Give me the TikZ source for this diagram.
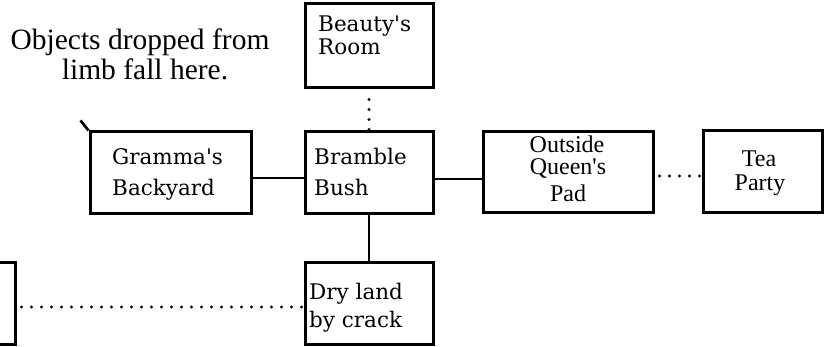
\documentclass[tikz,border=0pt]{standalone}
\usepackage{fontspec}
\newfontfamily\boxfont{DejaVu Serif}
\newfontfamily\tmfont{Liberation Serif}
\begin{document}
\begin{tikzpicture}[x=1pt,y=-1pt,
  room/.style={draw, line width=3pt, inner sep=0pt, rectangle},
  link/.style={line width=2.6pt},
  dotlink/.style={line width=3.2pt, line cap=round, dash pattern=on 0pt off 10pt},
  lbl/.style={inner sep=0pt, anchor=base west, font=\boxfont\fontsize{21.5}{25}\selectfont},
  clbl/.style={inner sep=0pt, anchor=base, font=\tmfont\fontsize{24}{26}\selectfont},
  note/.style={inner sep=0pt, anchor=base, font=\tmfont\fontsize{29.5}{30}\selectfont}]
\useasboundingbox (0,0) rectangle (825,347);
\clip (0,0) rectangle (825,347);
% boxes
\node[room, minimum width=128pt, minimum height=84pt] (beauty) at (369,46) {};
\node[room, minimum width=161pt, minimum height=82pt] (gramma) at (170.5,173) {};
\node[room, minimum width=128pt, minimum height=82pt] (bramble) at (369,173) {};
\node[room, minimum width=170pt, minimum height=81pt] (outside) at (568,172.5) {};
\node[room, minimum width=119pt, minimum height=82pt] (tea) at (762.5,172) {};
\node[room, minimum width=128pt, minimum height=82pt] (dry) at (369,304) {};
\node[room, minimum width=130pt, minimum height=82pt] (west) at (-50,304) {};
% labels
\node[lbl] (t1) at (318,32) {Beauty's};
\node[lbl] (t2) at (318,55) {Room};
\node[lbl] (t3) at (112,165) {Gramma's};
\node[lbl] (t4) at (112,196) {Backyard};
\node[lbl] (t5) at (314,165) {Bramble};
\node[lbl] (t6) at (314,196) {Bush};
\node[lbl] (t7) at (309,300) {Dry land};
\node[lbl] (t8) at (309,328) {by crack};
\node[clbl] (t9) at (567,153) {Outside};
\node[clbl] (t10) at (568,175) {Queen's};
\node[clbl] (t11) at (568,202) {Pad};
\node[clbl] (t12) at (759,167) {Tea};
\node[clbl] (t13) at (760,191) {Party};
\node[note] (n1) at (140,50) {Objects dropped from};
\node[note] (n2) at (145,80) {limb fall here.};
% connectors
\draw[link] ([yshift=-5pt]gramma.east) -- ([yshift=-5pt]bramble.west);
\draw[link] ([yshift=-6pt]bramble.east) -- ([yshift=-6.5pt]outside.west);
\draw[link] (bramble.south) -- (dry.north);
\draw[dotlink] ([yshift=-10pt]beauty.south) -- (bramble.north);
\draw[dotlink] ([xshift=5pt,yshift=-3.5pt]outside.east) -- ([yshift=-4pt]tea.west);
\draw[dotlink] ([xshift=5pt,yshift=-3pt]west.east) -- ([yshift=-3pt]dry.west);
\draw[link] (gramma.north west) -- ++(-8,-10);
\end{tikzpicture}
\end{document}
